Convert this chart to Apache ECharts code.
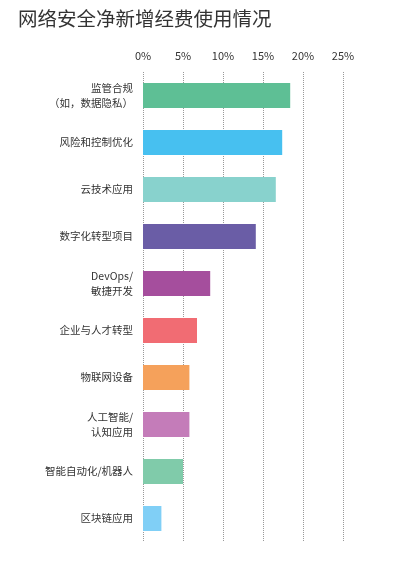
<!DOCTYPE html>
<html>
<head>
<meta charset="utf-8">
<script src="https://cdn.jsdelivr.net/npm/echarts@6/dist/echarts.min.js"></script>
<style>
  html, body { margin: 0; padding: 0; background: #fff; }
  #main { width: 419px; height: 564px; }
</style>
</head>
<body>
<div id="main"></div>
<script>
var categories = [
    '监管合规\n（如，数据隐私）',
    '风险和控制优化',
    '云技术应用',
    '数字化转型项目',
    'DevOps/\n敏捷开发',
    '企业与人才转型',
    '物联网设备',
    '人工智能/\n认知应用',
    '智能自动化/机器人',
    '区块链应用'
]
var values = [18.4, 17.4, 16.6, 14.1, 8.4, 6.75, 5.8, 5.8, 5.0, 2.3]
var colors = ['#5ebf95', '#47c0f0', '#88d2cd', '#6a5da6', '#a54e9d', '#f16c73', '#f5a15b', '#c47cb9', '#80cbaa', '#80cff6']
var tickLabels = ['0%', '5%', '10%', '15%', '20%', '25%']

var myChart = echarts.init(document.getElementById('main'));

var option = {
    backgroundColor: '#fff',
    textStyle: { fontFamily: '"Noto Sans CJK SC", sans-serif' },
    title: {
        text: '网络安全净新增经费使用情况',
        left: 13,
        top: 4,
        textStyle: { fontSize: 19.5, fontWeight: 'normal', color: '#333' }
    },
    grid: { left: 143, right: 76, top: 72, bottom: 22 },
    xAxis: {
        type: 'value',
        position: 'top',
        min: 0,
        max: 25,
        interval: 5,
        axisLine: { show: false },
        axisTick: { show: false },
        axisLabel: {
            color: '#333',
            fontSize: 11,
            margin: 11,
            formatter: function (v) { return tickLabels[v / 5]; }
        },
        splitLine: { show: true, lineStyle: { type: 'dotted', color: '#999', width: 1 } }
    },
    yAxis: {
        type: 'category',
        inverse: true,
        data: categories,
        axisLine: { show: false },
        axisTick: { show: false },
        axisLabel: { color: '#333', fontSize: 10.5, margin: 10, lineHeight: 15 }
    },
    series: [{
        type: 'bar',
        barWidth: 25,
        data: values.map(function (v, i) {
            return { value: v, itemStyle: { color: colors[i] } };
        })
    }]
};

myChart.setOption(option);
</script>
</body>
</html>
